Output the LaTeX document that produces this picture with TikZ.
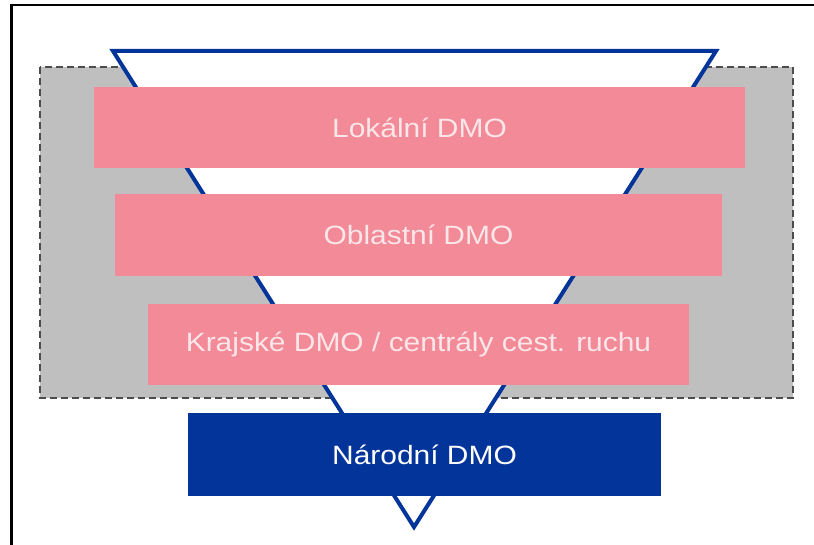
\documentclass[tikz,border=0pt]{standalone}
\usepackage{fontspec}
\setmainfont{Liberation Sans}
\definecolor{dmopink}{HTML}{F28A97}
\definecolor{dmonavy}{HTML}{03349A}
\definecolor{dmogray}{HTML}{BFBFBF}
\definecolor{dmotext}{HTML}{FBE6EA}
\newcommand{\widetext}[1]{\scalebox{1.13}[1]{#1}}
\begin{document}
\begin{tikzpicture}[x=1pt,y=-1pt,
  level/.style={fill=dmopink, draw=none, inner sep=0pt, text=dmotext,
    font=\fontsize{26.5}{30}\selectfont},
  topbox/.style={fill=dmonavy, draw=none, inner sep=0pt, text=white,
    font=\fontsize{26.5}{30}\selectfont},
  region/.style={fill=dmogray, draw=black!70, line width=1.8pt,
    dash pattern=on 7pt off 4pt},
  funnel/.style={fill=white, draw=dmonavy, line width=4pt, line join=miter}]
  \useasboundingbox (0,0) rectangle (814,545);
  % partial page frame
  \draw[line width=2.4pt] (11.5,545) -- (11.5,5) -- (814,5);
  % dashed grey region
  \draw[region] (40,67) rectangle (793,398);
  % inverted funnel
  \coordinate (fl) at (113,51);
  \coordinate (fr) at (716,51);
  \coordinate (fb) at (414,527);
  \draw[funnel] (fl) -- (fr) -- (fb) -- cycle;
  % levels
  \node[level, minimum width=651pt, minimum height=81pt] (lok) at (419.5,127.5) {\widetext{Lokální DMO}};
  \node[level, minimum width=607pt, minimum height=82pt] (obl) at (418.5,235) {\widetext{Oblastní DMO}};
  \node[level, minimum width=541pt, minimum height=81pt] (kra) at (418.5,344.5) {\widetext{Krajské DMO / centrály cest. ruchu}};
  \node[topbox, minimum width=473pt, minimum height=83pt] (nar) at (424.5,454.5) {\widetext{Národní DMO}};
\end{tikzpicture}
\end{document}
